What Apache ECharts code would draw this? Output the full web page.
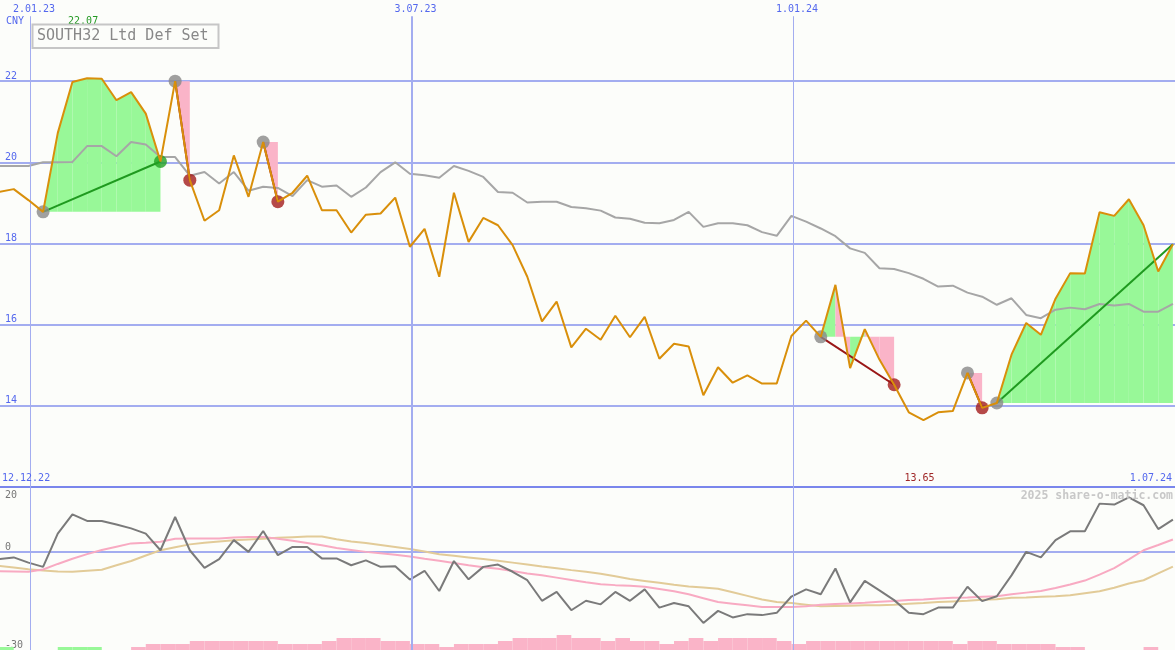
<!DOCTYPE html>
<html><head><meta charset="utf-8">
<script src="https://cdn.jsdelivr.net/npm/echarts@6/dist/echarts.min.js"></script>
<style>html,body{margin:0;padding:0;background:#fcfdfa}#c{width:1175px;height:650px}</style>
</head><body><div id="c"></div>
<script>
// ---------- data ----------
// weekly points; x = day offset relative to 2.01.23, first point 18.12.22
const FIRST_DAY = -15, STEP = 7;
const price = [
 19.27,19.34,19.07,18.78,20.72,21.98,22.07,22.06,21.53,21.73,
 21.20,20.02,22.00,19.56,18.56,18.82,20.17,19.15,20.50,19.03,
 19.25,19.67,18.82,18.82,18.27,18.71,18.74,19.13,17.92,18.36,
 17.18,19.25,18.04,18.63,18.45,17.96,17.18,16.08,16.57,15.44,
 15.90,15.63,16.22,15.69,16.19,15.16,15.53,15.46,14.26,14.95,
 14.57,14.75,14.55,14.55,15.72,16.10,15.70,16.98,14.93,15.89,
 15.14,14.52,13.84,13.65,13.84,13.87,14.81,13.95,14.07,15.26,
 16.04,15.75,16.64,17.27,17.26,18.77,18.68,19.09,18.45,17.31,
 17.98];
const movingAvg = [
 19.91,19.91,19.91,20.00,20.00,20.01,20.40,20.40,20.15,20.50,
 20.44,20.13,20.13,19.67,19.76,19.48,19.76,19.30,19.40,19.37,
 19.17,19.56,19.40,19.43,19.15,19.38,19.76,20.00,19.72,19.68,
 19.62,19.91,19.79,19.64,19.27,19.25,19.01,19.03,19.03,18.90,
 18.87,18.81,18.64,18.61,18.51,18.50,18.58,18.78,18.41,18.50,
 18.50,18.45,18.28,18.19,18.68,18.54,18.37,18.18,17.88,17.77,
 17.39,17.37,17.27,17.13,16.94,16.96,16.79,16.69,16.49,16.65,
 16.24,16.16,16.37,16.42,16.38,16.51,16.47,16.51,16.32,16.32,
 16.51];
const momentum = [
 -2.1,-1.6,-3.2,-4.5,5.7,11.6,9.6,9.6,8.5,7.3,
 5.7,0.6,10.8,0.6,-4.8,-2.1,3.7,0.1,6.5,-0.9,
 1.6,1.6,-1.9,-1.9,-4.0,-2.5,-4.5,-4.3,-8.4,-5.7,
 -11.9,-2.7,-8.3,-4.5,-3.8,-6.0,-8.6,-14.9,-12.2,-17.8,
 -14.9,-16.0,-12.2,-14.9,-11.4,-17.0,-15.6,-16.6,-21.7,-18.0,
 -20.0,-19.0,-19.3,-18.6,-13.6,-11.4,-12.9,-5.0,-15.4,-8.8,
 -11.7,-14.7,-18.6,-19.0,-17.0,-17.0,-10.6,-15.0,-13.5,-7.1,
 0.1,-1.6,3.7,6.4,6.4,14.9,14.6,16.8,14.4,7.1,
 10.0];
const oscFast = [
 -5.8,-5.9,-6.0,-5.3,-3.6,-2.0,-0.6,0.7,1.7,2.7,
 2.9,3.2,4.1,4.2,4.2,4.2,4.5,4.7,4.7,4.1,
 3.5,2.8,2.1,1.3,0.7,0.1,-0.3,-0.8,-1.3,-2.0,
 -2.6,-3.3,-4.0,-4.6,-5.1,-5.8,-6.5,-7.1,-7.8,-8.5,
 -9.2,-9.8,-10.1,-10.3,-10.6,-11.3,-12.0,-12.9,-14.1,-15.3,
 -15.8,-16.3,-16.8,-16.8,-16.8,-16.6,-16.1,-15.9,-15.7,-15.5,
 -15.2,-15.0,-14.7,-14.5,-14.2,-14.0,-13.9,-13.7,-13.5,-12.9,
 -12.4,-11.9,-11.0,-9.9,-8.7,-6.9,-4.9,-2.2,0.6,2.2,
 3.9];
const oscSlow = [
 -4.2,-4.7,-5.2,-5.6,-5.9,-6.0,-5.7,-5.4,-4.0,-2.7,
 -1.0,0.6,1.5,2.4,2.9,3.3,3.7,3.9,4.1,4.4,
 4.6,4.8,4.8,4.0,3.3,2.8,2.2,1.6,1.0,0.2,
 -0.6,-1.1,-1.6,-2.1,-2.6,-3.2,-3.8,-4.4,-4.9,-5.5,
 -6.0,-6.6,-7.4,-8.2,-8.8,-9.4,-10.0,-10.5,-10.8,-11.2,
 -12.3,-13.4,-14.5,-15.3,-15.6,-16.1,-16.6,-16.5,-16.4,-16.3,
 -16.3,-16.1,-15.8,-15.6,-15.3,-15.1,-14.9,-14.6,-14.4,-14.0,
 -13.9,-13.7,-13.5,-13.2,-12.6,-12.0,-10.9,-9.6,-8.6,-6.5,
 -4.4];
// weekly histogram (interval i -> i+1); + green, - pink
const histogram = [
 1,0,0,0,1,1,1,0,0,-1,
 -2,-2,-2,-3,-3,-3,-3,-3,-3,-2,
 -2,-2,-3,-4,-4,-4,-3,-3,-2,-2,
 -1,-2,-2,-2,-3,-4,-4,-4,-5,-4,
 -4,-3,-4,-3,-3,-2,-3,-4,-3,-4,
 -4,-4,-4,-3,-2,-3,-3,-3,-3,-3,
 -3,-3,-3,-3,-3,-2,-3,-3,-2,-2,
 -2,-2,-1,-1,0,0,0,0,-1,0];
// trend signals (indices into price)
const blockStart = [3, 12, 18, 56, 66, 68];
const blockEnd   = [11, 13, 19, 61, 67, 80];
const blockDir   = ['up','down','down','down','down','up'];
const blockClosed = [true, true, true, true, true, false];
// labels
const gridDays = [0, 182, 364];
const gridLabels = ['2.01.23', '3.07.23', '1.01.24'];
const rangeLabels = ['12.12.22', '1.07.24'];
const priceTicks = [14, 16, 18, 20, 22];
const lowerTicksBottom = [0, -30];
const lowerTicksTop = [20];
const titleText = 'SOUTH32 Ltd Def Set';
const unitText = 'CNY';
const creditText = '2025 share-o-matic.com';

// ---------- style ----------
const MONO = '"DejaVu Sans Mono", monospace';
const BLUE_T = '#5468ee', GRID_C = '#a3adf0', SEP_C = '#7a86ec';
const GREEN_F = '#98f898', PINK_F = '#fab4c8';
const ORANGE = '#d98f0a';
const day = i => FIRST_DAY + STEP * i;
const pts = arr => arr.map((v, i) => [day(i), v]);

const fillData = [], trendData = [], greyDots = [], redDots = [], greenDots = [];
blockStart.forEach((s, b) => {
  const e = blockEnd[b], lv = price[s];
  for (let i = s; i < e; i++) {
    const up = blockDir[b] === 'up' || price[i + 1] >= price[i];
    fillData.push([day(i), day(i + 1), price[i], price[i + 1], lv, up ? 1 : 0]);
  }
  trendData.push([day(s), price[s], day(e), price[e], blockDir[b] === 'up' ? 1 : 0]);
  greyDots.push([day(s), price[s]]);
  if (blockClosed[b]) (blockDir[b] === 'up' ? greenDots : redDots).push([day(e), price[e]]);
});
let iMax = 0, iMin = 0;
price.forEach((v, i) => { if (v > price[iMax]) iMax = i; if (v < price[iMin]) iMin = i; });

const XMIN = -14.55, XMAX = 546;
const lineS = (name, data, color, xi, yi, z) => ({
  name, type: 'line', xAxisIndex: xi, yAxisIndex: yi, data, showSymbol: false, symbol: 'none',
  lineStyle: { color, width: 2 }, z, silent: true, animation: false
});

const chart = echarts.init(document.getElementById('c'));
chart.setOption({
  backgroundColor: '#fcfdfa',
  animation: false,
  grid: [
    { left: 0, right: 0, top: 0, height: 487 },
    { left: 0, right: 0, top: 487, height: 163 }
  ],
  xAxis: [
    { gridIndex: 0, type: 'value', min: XMIN, max: XMAX,
      axisLine: { show: true, onZero: false, lineStyle: { color: SEP_C, width: 2 } },
      axisTick: { show: false }, axisLabel: { show: false }, splitLine: { show: false } },
    { gridIndex: 1, type: 'value', min: XMIN, max: XMAX, show: false }
  ],
  yAxis: [
    { gridIndex: 0, type: 'value', min: 12, max: 24, interval: 2, position: 'left',
      axisLine: { show: false }, axisTick: { show: false },
      splitLine: { show: true, lineStyle: { width: 2, color: ['rgba(0,0,0,0)', GRID_C, GRID_C, GRID_C, GRID_C, GRID_C, 'rgba(0,0,0,0)'] } },
      axisLabel: { inside: true, margin: 5, verticalAlign: 'bottom', color: BLUE_T, fontFamily: MONO, fontSize: 10,
        formatter: v => priceTicks.includes(v) ? String(v) : '' } },
    { gridIndex: 1, type: 'value', min: -30, max: 20, interval: 10, position: 'left',
      axisLine: { show: false }, axisTick: { show: false },
      splitLine: { show: true, lineStyle: { width: 2, color: ['rgba(0,0,0,0)', 'rgba(0,0,0,0)', 'rgba(0,0,0,0)', GRID_C, 'rgba(0,0,0,0)', 'rgba(0,0,0,0)'] } },
      axisLabel: { inside: true, margin: 5, verticalAlign: 'bottom', color: '#777', fontFamily: MONO, fontSize: 10,
        formatter: v => lowerTicksBottom.includes(v) ? String(v) : '' } },
    { gridIndex: 1, type: 'value', min: -30, max: 20, interval: 10, position: 'left',
      axisLine: { show: false }, axisTick: { show: false }, splitLine: { show: false },
      axisLabel: { inside: true, margin: 5, verticalAlign: 'top', padding: [3, 0, 0, 0], color: '#777', fontFamily: MONO, fontSize: 10,
        formatter: v => lowerTicksTop.includes(v) ? String(v) : '' } },
    { gridIndex: 1, type: 'value', min: 0, max: 163 / 3, show: false }
  ],
  graphic: [
    { type: 'rect', shape: { x: 32.5, y: 24.5, width: 186, height: 23.5 }, style: { fill: '#fcfdfa', stroke: '#c6c6c6', lineWidth: 2 }, z: 50 },
    { type: 'text', x: 37, y: 36.5, style: { text: titleText, fill: '#888', font: '15px ' + MONO, verticalAlign: 'middle' }, z: 51 },
    { type: 'text', x: 6, y: 21, style: { text: unitText, fill: BLUE_T, font: '10px ' + MONO, verticalAlign: 'middle' }, z: 51 },
    { type: 'text', x: 2, y: 478, style: { text: rangeLabels[0], fill: BLUE_T, font: '10px ' + MONO, verticalAlign: 'middle' }, z: 51 },
    { type: 'text', x: 1172, y: 478, style: { text: rangeLabels[1], fill: BLUE_T, font: '10px ' + MONO, align: 'right', verticalAlign: 'middle' }, z: 51 },
    { type: 'text', x: 1173, y: 496, style: { text: creditText, fill: '#c8c8c8', font: 'bold 11.5px ' + MONO, align: 'right', verticalAlign: 'middle' }, z: 51 }
  ],
  series: [
    { name: 'fills', type: 'custom', xAxisIndex: 0, yAxisIndex: 0, data: fillData, z: 1, silent: true, clip: true,
      encode: { x: [0, 1], y: [2, 3, 4] },
      renderItem: (params, api) => {
        const x0 = api.value(0), x1 = api.value(1), lv = api.value(4);
        return { type: 'polygon', shape: { points: [api.coord([x0, lv]), api.coord([x0, api.value(2)]), api.coord([x1, api.value(3)]), api.coord([x1, lv])] },
          style: { fill: api.value(5) ? GREEN_F : PINK_F } };
      },
      markLine: { silent: true, symbol: ['none', 'none'], animation: false,
        lineStyle: { color: GRID_C, type: 'solid' },
        label: { show: true, position: 'start', formatter: '{b}', color: BLUE_T, fontFamily: MONO, fontSize: 10, distance: 2, padding: [0, 0, 0, 7] },
        data: gridDays.map((d, j) => [{ name: gridLabels[j], coord: [d, 23.6], lineStyle: { width: j === 1 ? 2 : 1 } }, { coord: [d, 12] }]) } },
    lineS('avg', pts(movingAvg), '#a6a6a6', 0, 0, 2),
    { name: 'trend', type: 'custom', xAxisIndex: 0, yAxisIndex: 0, data: trendData, z: 3, silent: true,
      encode: { x: [0, 2], y: [1, 3] },
      renderItem: (params, api) => {
        const a = api.coord([api.value(0), api.value(1)]), b = api.coord([api.value(2), api.value(3)]);
        return { type: 'line', shape: { x1: a[0], y1: a[1], x2: b[0], y2: b[1] },
          style: { stroke: api.value(4) ? '#1f9a1f' : '#9a1616', lineWidth: 2 } };
      } },
    { name: 'start', type: 'scatter', xAxisIndex: 0, yAxisIndex: 0, data: greyDots, symbolSize: 13, itemStyle: { color: '#888' }, z: 4, silent: true },
    { name: 'sell', type: 'scatter', xAxisIndex: 0, yAxisIndex: 0, data: redDots, symbolSize: 13, itemStyle: { color: '#a31c1c' }, z: 4, silent: true },
    { name: 'buy', type: 'scatter', xAxisIndex: 0, yAxisIndex: 0, data: greenDots, symbolSize: 13, itemStyle: { color: '#22a022' }, z: 4, silent: true },
    Object.assign(lineS('price', pts(price), ORANGE, 0, 0, 5), {
      markPoint: { silent: true, symbol: 'rect', symbolSize: 1, itemStyle: { color: 'rgba(0,0,0,0)' }, animation: false,
        label: { show: true, position: 'inside', fontFamily: MONO, fontSize: 10, offset: [-4, 0], formatter: p => p.value.toFixed(2) },
        data: [
          { coord: [day(iMax), 23.48], value: price[iMax], label: { color: '#229922' } },
          { coord: [day(iMin), 12.22], value: price[iMin], label: { color: '#a02828' } }
        ] } }),
    { name: 'hist', type: 'custom', xAxisIndex: 1, yAxisIndex: 3, z: 1, silent: true,
      data: histogram.map((v, i) => [day(i), day(i + 1), Math.abs(v), v > 0 ? 1 : 0]),
      encode: { x: [0, 1], y: 2 },
      renderItem: (params, api) => {
        const a = api.coord([api.value(0), 0]), b = api.coord([api.value(1), api.value(2)]);
        return { type: 'rect', shape: { x: a[0], y: b[1], width: b[0] - a[0], height: a[1] - b[1] },
          style: { fill: api.value(3) ? GREEN_F : PINK_F } };
      },
      markLine: { silent: true, symbol: ['none', 'none'], animation: false, label: { show: false },
        lineStyle: { color: GRID_C, type: 'solid' },
        data: gridDays.map((d, j) => [{ coord: [d, 0], lineStyle: { width: j === 1 ? 2 : 1 } }, { coord: [d, 163 / 3] }]) } },
    lineS('oscSlow', pts(oscSlow), '#e2cb98', 1, 1, 2),
    lineS('oscFast', pts(oscFast), '#f8aac2', 1, 1, 3),
    lineS('momentum', pts(momentum), '#7a7a7a', 1, 1, 4)
  ]
});
</script>
</body></html>
